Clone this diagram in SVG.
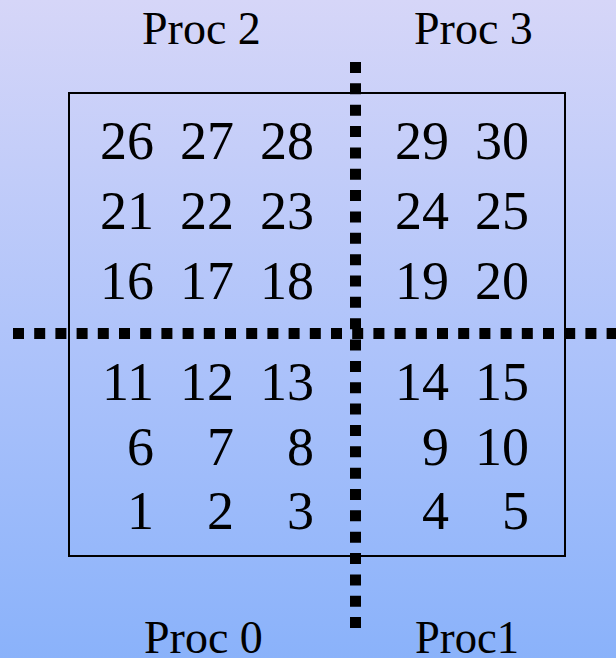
<svg xmlns="http://www.w3.org/2000/svg" width="616" height="658" viewBox="0 0 616 658">
  <defs>
    <linearGradient id="bg" x1="0" y1="0" x2="0" y2="1">
      <stop offset="0" stop-color="#d6d6f8"/>
      <stop offset="0.5" stop-color="#b0c4fa"/>
      <stop offset="1" stop-color="#8ab2fa"/>
    </linearGradient>
  </defs>
  <style>
    .lbl { font-family: "Liberation Serif", "Times New Roman", serif; font-size: 46px; fill: #000; }
    .num { font-family: "Liberation Serif", "Times New Roman", serif; font-size: 54px; fill: #000; text-anchor: end; }
    .dot { stroke: #000; stroke-width: 11; fill: none; }
    .box { stroke: #000; stroke-width: 2; fill: none; }
  </style>
  <rect x="0" y="0" width="616" height="658" fill="url(#bg)"/>

  <g id="grid">
    <rect class="box" x="69" y="93" width="496" height="463"/>
  </g>

  <g id="connectors">
    <line class="dot" x1="13" y1="333.5" x2="616" y2="333.5" stroke-dasharray="11 10.2"/>
    <line class="dot" x1="355.5" y1="62" x2="355.5" y2="628" stroke-dasharray="11 10.35"/>
  </g>

  <g id="proc2"><text class="lbl" x="142" y="43.5">Proc 2</text></g>
  <g id="proc3"><text class="lbl" x="414" y="43.5">Proc 3</text></g>
  <g id="proc0"><text class="lbl" x="144" y="653">Proc 0</text></g>
  <g id="proc1"><text class="lbl" x="415" y="653" textLength="104" lengthAdjust="spacingAndGlyphs">Proc1</text></g>

  <g id="cells">
    <g id="row26">
      <text class="num" x="154" y="158.5">26</text>
      <text class="num" x="234" y="158.5">27</text>
      <text class="num" x="314" y="158.5">28</text>
      <text class="num" x="449" y="158.5">29</text>
      <text class="num" x="529" y="158.5">30</text>
    </g>
    <g id="row21">
      <text class="num" x="154" y="229">21</text>
      <text class="num" x="234" y="229">22</text>
      <text class="num" x="314" y="229">23</text>
      <text class="num" x="449" y="229">24</text>
      <text class="num" x="529" y="229">25</text>
    </g>
    <g id="row16">
      <text class="num" x="154" y="299">16</text>
      <text class="num" x="234" y="299">17</text>
      <text class="num" x="314" y="299">18</text>
      <text class="num" x="449" y="299">19</text>
      <text class="num" x="529" y="299">20</text>
    </g>
    <g id="row11">
      <text class="num" x="154" y="400">11</text>
      <text class="num" x="234" y="400">12</text>
      <text class="num" x="314" y="400">13</text>
      <text class="num" x="449" y="400">14</text>
      <text class="num" x="529" y="400">15</text>
    </g>
    <g id="row6">
      <text class="num" x="154" y="464.5">6</text>
      <text class="num" x="234" y="464.5">7</text>
      <text class="num" x="314" y="464.5">8</text>
      <text class="num" x="449" y="464.5">9</text>
      <text class="num" x="529" y="464.5">10</text>
    </g>
    <g id="row1">
      <text class="num" x="154" y="528.5">1</text>
      <text class="num" x="234" y="528.5">2</text>
      <text class="num" x="314" y="528.5">3</text>
      <text class="num" x="449" y="528.5">4</text>
      <text class="num" x="529" y="528.5">5</text>
    </g>
  </g>
</svg>
